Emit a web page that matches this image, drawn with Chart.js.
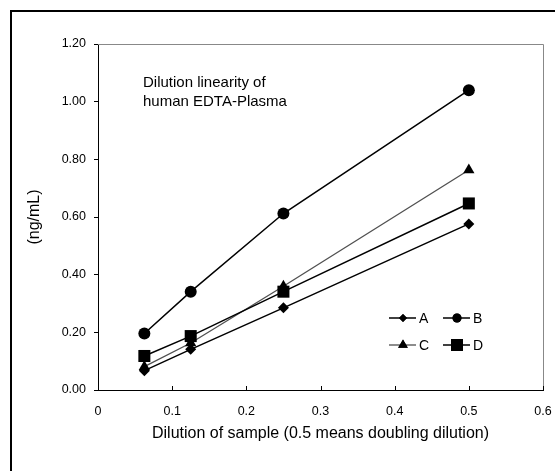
<!DOCTYPE html>
<html>
<head>
<meta charset="utf-8">
<script src="https://cdn.jsdelivr.net/npm/chart.js@4"></script>
<style>
  body { margin: 0; background: #fff; }
  canvas { display: block; }
</style>
</head>
<body>
<canvas id="dilution" width="555" height="471"></canvas>
<script>
// values
const dilution = [0.0625, 0.125, 0.25, 0.5];
const seriesA = [0.067, 0.141, 0.285, 0.576];
const seriesB = [0.196, 0.341, 0.612, 1.040];
const seriesC = [0.081, 0.163, 0.360, 0.763];
const seriesD = [0.118, 0.187, 0.341, 0.647];
const seriesNames = ['A', 'B', 'C', 'D'];
const noteLines = ['Dilution linearity of', 'human EDTA-Plasma'];
const xTitle = 'Dilution of sample (0.5 means doubling dilution)';
const yTitle = '(ng/mL)';

const FONT = 'Arial, "Liberation Sans", sans-serif';

function points(values) {
    return values.map((v, i) => ({ x: dilution[i], y: v }));
}

function makeSet(name, values, style, radius, color, order) {
    return {
        label: name,
        data: points(values),
        borderColor: color,
        backgroundColor: color,
        borderWidth: color === '#000' ? 1.5 : 1.3,
        pointStyle: style,
        pointRadius: radius,
        pointBorderWidth: 0,
        pointBackgroundColor: '#000',
        pointBorderColor: '#000',
        tension: 0,
        order: order
    };
}

// outer frame, plot frame, inside x ticks, note text and legend
const extras = {
    id: 'extras',
    beforeDraw(chart) {
        const ctx = chart.ctx;
        ctx.save();
        ctx.fillStyle = '#fff';
        ctx.fillRect(0, 0, chart.width, chart.height);
        ctx.strokeStyle = '#000';
        ctx.lineWidth = 2;
        ctx.beginPath();
        ctx.moveTo(11, chart.height + 2);
        ctx.lineTo(11, 11);
        ctx.lineTo(chart.width + 2, 11);
        ctx.stroke();
        ctx.restore();
    },
    beforeDatasetsDraw(chart) {
        const ctx = chart.ctx;
        const a = chart.chartArea;
        const xs = chart.scales.x;
        ctx.save();
        ctx.strokeStyle = '#888';
        ctx.lineWidth = 1;
        ctx.beginPath();
        ctx.moveTo(a.left, a.top + 0.5);
        ctx.lineTo(a.right + 0.5, a.top + 0.5);
        ctx.lineTo(a.right + 0.5, a.bottom);
        ctx.stroke();
        ctx.strokeStyle = '#000';
        ctx.beginPath();
        xs.ticks.forEach(t => {
            const px = Math.round(xs.getPixelForValue(t.value)) + 0.5;
            ctx.moveTo(px, a.bottom);
            ctx.lineTo(px, a.bottom - 4);
        });
        ctx.stroke();
        ctx.restore();
    },
    afterDraw(chart) {
        const ctx = chart.ctx;
        ctx.save();
        ctx.fillStyle = '#000';
        ctx.font = '15px ' + FONT;
        ctx.textBaseline = 'middle';
        noteLines.forEach((line, i) => ctx.fillText(line, 143, 83 + i * 19));

        // legend, two columns
        const spots = [[389, 318], [443, 318], [389, 345], [443, 345]];
        const legendRadius = [4, 4.5, 5.6, 8.5];
        chart.data.datasets.forEach((ds, i) => {
            const [lx, ly] = spots[i];
            ctx.strokeStyle = ds.borderColor;
            ctx.lineWidth = ds.borderWidth;
            ctx.beginPath();
            ctx.moveTo(lx, ly);
            ctx.lineTo(lx + 27, ly);
            ctx.stroke();
            ctx.fillStyle = '#000';
            Chart.helpers.drawPoint(ctx, {
                pointStyle: ds.pointStyle,
                radius: legendRadius[i],
                rotation: 0,
                borderWidth: 0
            }, lx + 14, ly);
            ctx.fill();
            ctx.font = '14px ' + FONT;
            ctx.fillText(ds.label, lx + 30, ly + 1);
        });
        ctx.restore();
    }
};

new Chart(document.getElementById('dilution'), {
    type: 'line',
    data: {
        datasets: [
            makeSet(seriesNames[0], seriesA, 'rectRot', 5.5, '#000', 0),
            makeSet(seriesNames[1], seriesB, 'circle', 6, '#000', 1),
            makeSet(seriesNames[2], seriesC, 'triangle', 6.5, '#505050', 3),
            makeSet(seriesNames[3], seriesD, 'rect', 8.5, '#000', 2)
        ]
    },
    options: {
        responsive: false,
        animation: false,
        layout: { padding: { top: 44, right: 12, left: 0, bottom: 0 } },
        plugins: {
            legend: { display: false },
            tooltip: { enabled: false }
        },
        scales: {
            x: {
                type: 'linear',
                min: 0,
                max: 0.6,
                afterFit: s => { s.height = 81; s.paddingRight = 0; s.paddingLeft = 0; },
                ticks: {
                    stepSize: 0.1,
                    color: '#000',
                    padding: 14,
                    maxRotation: 0,
                    font: { family: FONT, size: 12.5 }
                },
                grid: { display: false, drawTicks: false },
                border: { display: true, color: '#000', width: 1 },
                title: {
                    display: true,
                    text: xTitle,
                    color: '#000',
                    font: { family: FONT, size: 16 },
                    padding: { top: 0, bottom: 28 }
                }
            },
            y: {
                min: 0,
                max: 1.2,
                afterFit: s => { s.width = 98; },
                ticks: {
                    stepSize: 0.2,
                    color: '#000',
                    padding: 8,
                    font: { family: FONT, size: 12.5 },
                    callback: v => Number(v).toFixed(2)
                },
                grid: {
                    display: true,
                    drawOnChartArea: false,
                    drawTicks: true,
                    tickLength: 4,
                    color: '#000'
                },
                border: { display: true, color: '#000', width: 1 },
                title: {
                    display: true,
                    text: yTitle,
                    color: '#000',
                    font: { family: FONT, size: 16 },
                    padding: { top: 25, bottom: 0 }
                }
            }
        }
    },
    plugins: [extras]
});
</script>
</body>
</html>
